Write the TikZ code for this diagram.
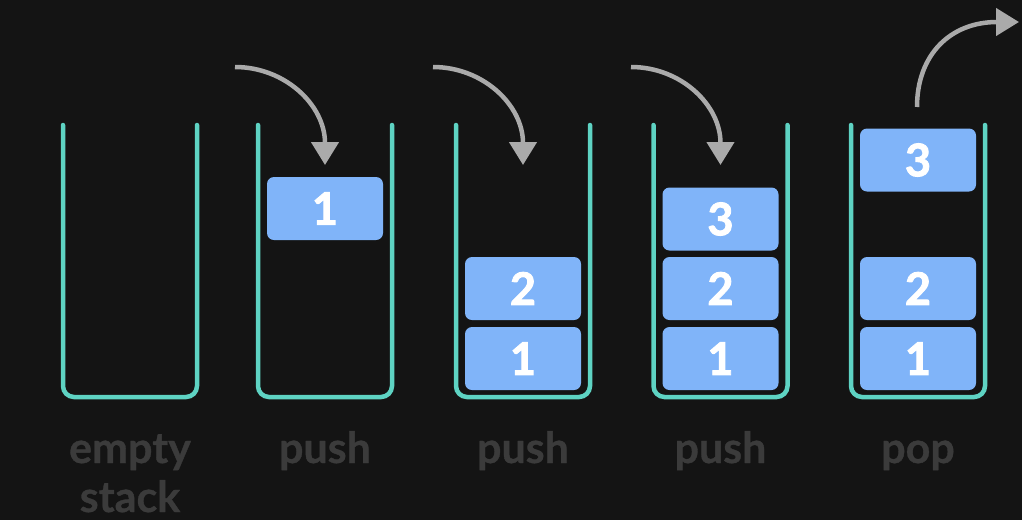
\documentclass[tikz,border=0pt]{standalone}
\usepackage{fontspec}
\setmainfont{Lato}
\usetikzlibrary{arrows.meta}
\definecolor{bg}{HTML}{141414}
\definecolor{teal}{HTML}{5ED3C3}
\definecolor{boxblue}{HTML}{80B4F9}
\definecolor{arrowgray}{HTML}{AAAAAA}
\definecolor{labelgray}{HTML}{3B3B3B}
\tikzset{
  stackline/.style={draw=teal, line width=4.5pt, line cap=round, rounded corners=11pt},
  item/.style={fill=boxblue, rounded corners=7pt, minimum width=116pt, minimum height=63pt, inner sep=0pt,
    text=white, font=\fontsize{45}{45}\selectfont\bfseries\addfontfeature{FakeBold=2}},
  oplabel/.style={anchor=base, text=labelgray, font=\fontsize{43}{49}\selectfont\bfseries\addfontfeature{FakeBold=0.8}, align=center, inner sep=0pt},
  moveArrow/.style={draw=arrowgray, line width=4.5pt, -{Triangle[width=27pt,length=23pt]}}
}
\begin{document}
\begin{tikzpicture}[x=1pt,y=-1pt]
\fill[bg] (0,0) rectangle (1022,520);
\useasboundingbox (0,0) rectangle (1022,520);
% stacks
\foreach \c in {130,325,523,720.5,918}{
  \draw[stackline] (\c-67,125) |- (\c,397) -| (\c+67,125);
}
% stack 2
\node[item] (s2a) at (325,208.5) {1};
% stack 3
\node[item] (s3b) at (523,288.5) {2};
\node[item] (s3a) at (523,358.5) {1};
% stack 4
\node[item] (s4c) at (720.5,219) {3};
\node[item] (s4b) at (720.5,288.5) {2};
\node[item] (s4a) at (720.5,358.5) {1};
% stack 5
\node[item] (s5c) at (918,160) {3};
\node[item] (s5b) at (918,288.5) {2};
\node[item] (s5a) at (918,358.5) {1};
% arrows
\coordinate (p2s) at (235,67);
\coordinate (p2e) at (325,165);
\coordinate (p3s) at (433,67);
\coordinate (p3e) at (523,165);
\coordinate (p4s) at (631,67);
\coordinate (p4e) at (720.5,165);
\draw[moveArrow] (p2s) .. controls (285,67) and (325,105) .. (p2e);
\draw[moveArrow] (p3s) .. controls (483,67) and (523,105) .. (p3e);
\draw[moveArrow] (p4s) .. controls (681,67) and (720.5,105) .. (p4e);
\coordinate (pop1) at (917,107);
\coordinate (pop2) at (1019,22);
\draw[moveArrow] (pop1) .. controls (917,55) and (950,22) .. (pop2);
% labels
\node[oplabel] (l1) at (130,512) {empty\\stack};
\node[oplabel] (l2) at (325,463) {push};
\node[oplabel] (l3) at (523,463) {push};
\node[oplabel] (l4) at (720.5,463) {push};
\node[oplabel] (l5) at (918,463) {pop};
\end{tikzpicture}
\end{document}
